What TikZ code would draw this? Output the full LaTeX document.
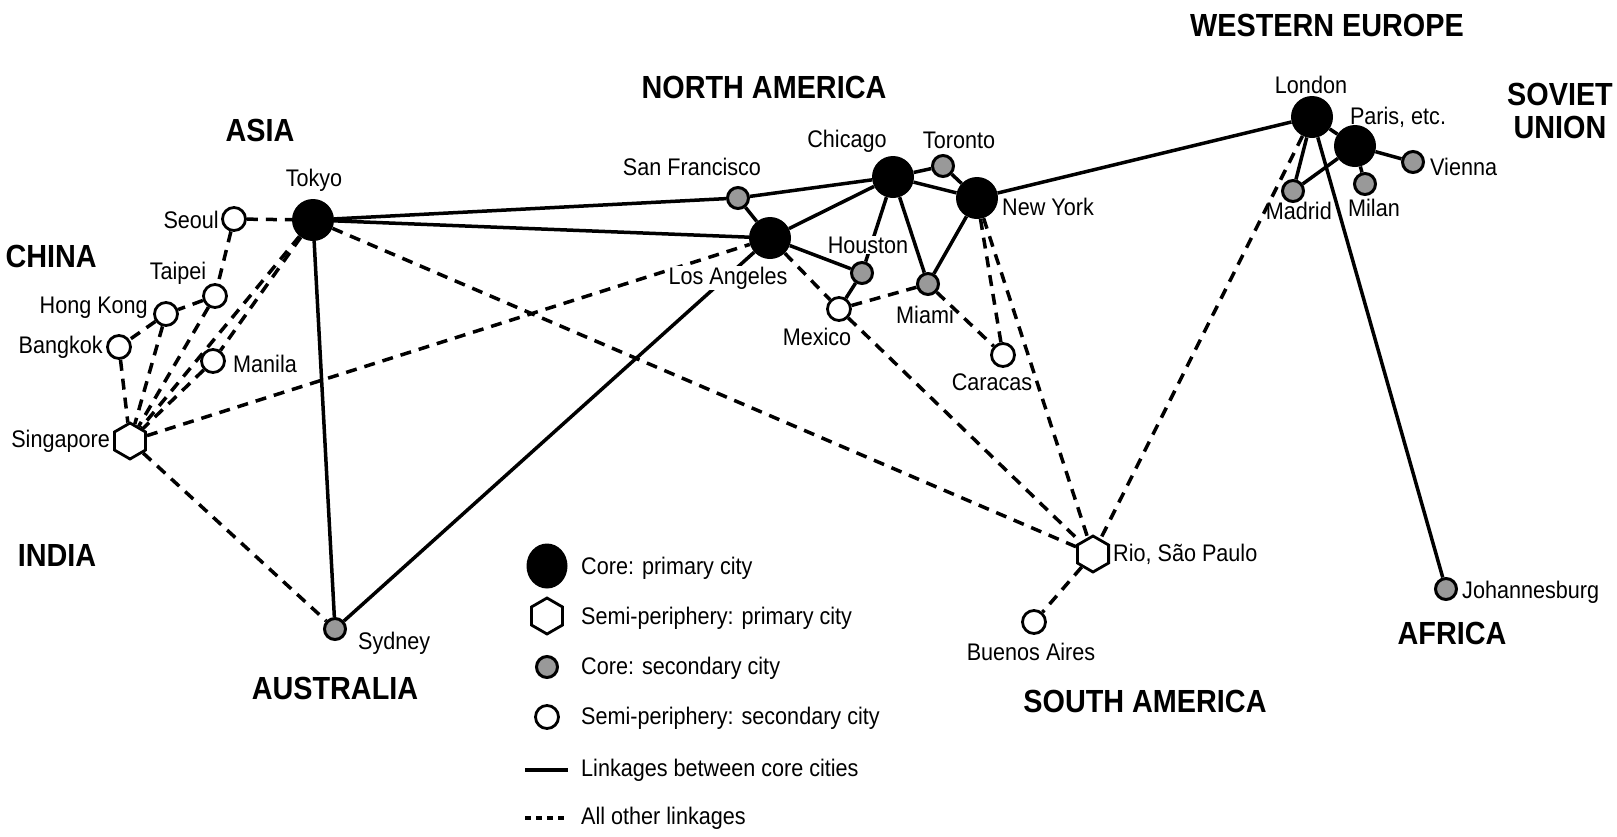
\documentclass[tikz,border=0pt]{standalone}
\usepackage{fontspec}
\setmainfont{Liberation Sans}[FakeStretch=0.9]
\usetikzlibrary{shapes.geometric}
\begin{document}
\begin{tikzpicture}[x=1pt,y=-1pt,
  core/.style={circle,fill=black,inner sep=0pt,minimum size=42pt},
  semi/.style={regular polygon,regular polygon sides=6,shape border rotate=30,draw=black,line width=2.8pt,fill=white,inner sep=0pt,minimum size=36pt},
  coresec/.style={circle,draw=black,line width=3pt,fill=black!40,inner sep=0pt,minimum size=21pt},
  semisec/.style={circle,draw=black,line width=2.8pt,fill=white,inner sep=0pt,minimum size=23pt},
  corelink/.style={line width=3.5pt},
  otherlink/.style={line width=3.5pt,dash pattern=on 11pt off 8pt},
  lbl/.style={font=\fontsize{24}{28}\selectfont,inner sep=1pt},
  lblw/.style={lbl,fill=white},
  region/.style={font=\bfseries\fontsize{32}{33}\selectfont,inner sep=0pt,align=center}]
\fill[white] (0,0) rectangle (1617,836);
\useasboundingbox (0,0) rectangle (1617,836);
% cities
\node[core] (Tokyo) at (313,220) {};
\node[semisec] (Seoul) at (234,219) {};
\node[semisec] (Taipei) at (215,296) {};
\node[semisec] (HongKong) at (166,314) {};
\node[semisec] (Bangkok) at (119,347) {};
\node[semisec] (Manila) at (213,361) {};
\node[semi] (Singapore) at (130,441) {};
\node[coresec] (Sydney) at (335,629) {};
\node[coresec] (SF) at (738,198) {};
\node[core] (LA) at (770,238) {};
\node[core] (Chicago) at (893,177) {};
\node[coresec] (Toronto) at (943,166) {};
\node[core] (NewYork) at (977,198) {};
\node[coresec] (Houston) at (862,273) {};
\node[coresec] (Miami) at (928,284) {};
\node[semisec] (Mexico) at (839,309) {};
\node[semisec] (Caracas) at (1003,355) {};
\node[core] (London) at (1312,117) {};
\node[core] (Paris) at (1355,146) {};
\node[coresec] (Vienna) at (1413,162) {};
\node[coresec] (Madrid) at (1293,191) {};
\node[coresec] (Milan) at (1365,184) {};
\node[semi] (Rio) at (1093,554) {};
\node[semisec] (BuenosAires) at (1034,622) {};
\node[coresec] (Johannesburg) at (1446,589) {};
% core linkages
\foreach \a/\b in {Tokyo/SF,SF/Chicago,Tokyo/LA,SF/LA,LA/Chicago,LA/Houston,Chicago/Houston,Chicago/Miami,Chicago/Toronto,Toronto/NewYork,Chicago/NewYork,NewYork/Miami,Houston/Mexico,NewYork/London,London/Paris,Paris/Vienna,London/Madrid,Paris/Madrid,Paris/Milan,London/Johannesburg,LA/Sydney,Tokyo/Sydney}
  \draw[corelink] (\a) -- (\b);
% other linkages
\foreach \a/\b in {Seoul/Tokyo,Seoul/Taipei,Taipei/HongKong,HongKong/Bangkok,Bangkok/Singapore,HongKong/Singapore,Taipei/Singapore,Manila/Singapore,Tokyo/Manila,Tokyo/Singapore,Singapore/LA,Singapore/Sydney,Tokyo/Rio,LA/Mexico,Mexico/Miami,Mexico/Rio,Miami/Caracas,NewYork/Caracas,NewYork/Rio,London/Rio,Rio/BuenosAires}
  \draw[otherlink] (\a) -- (\b);
% city labels
\node[lbl] (lTokyo) at (314,180) {Tokyo};
\node[lbl,anchor=east] (lSeoul) at (220,220) {Seoul};
\node[lbl] (lTaipei) at (178,273) {Taipei};
\node[lbl,anchor=east] (lHongKong) at (149,308) {Hong Kong};
\node[lbl,anchor=east] (lBangkok) at (104,347) {Bangkok};
\node[lbl,anchor=west] (lManila) at (232,364) {Manila};
\node[lbl,anchor=east] (lSingapore) at (111,441) {Singapore};
\node[lbl,anchor=west] (lSydney) at (357,643) {Sydney};
\node[lbl] (lSF) at (692,167) {San Francisco};
\node[lbl] (lChicago) at (847,141) {Chicago};
\node[lbl] (lToronto) at (959,140) {Toronto};
\node[lbl,anchor=west] (lNewYork) at (1001,207) {New York};
\node[lblw] (lHouston) at (868,245) {Houston};
\node[lblw] (lLA) at (728,278) {Los Angeles};
\node[lbl] (lMexico) at (817,337) {Mexico};
\node[lbl] (lMiami) at (925,315) {Miami};
\node[lbl] (lCaracas) at (992,382) {Caracas};
\node[lbl] (lLondon) at (1311,85) {London};
\node[lbl] (lParis) at (1398,117) {Paris, etc.};
\node[lbl,anchor=west] (lVienna) at (1429,167) {Vienna};
\node[lbl,anchor=east] (lMadrid) at (1333,211) {Madrid};
\node[lbl] (lMilan) at (1374,208) {Milan};
\node[lbl,anchor=west] (lRio) at (1112,554) {Rio, São Paulo};
\node[lbl] (lBuenosAires) at (1031,652) {Buenos Aires};
\node[lbl,anchor=west] (lJohannesburg) at (1461,592) {Johannesburg};
% regions
\node[region] (rAsia) at (260,130) {ASIA};
\node[region,anchor=east] (rChina) at (97,256) {CHINA};
\node[region] (rIndia) at (57,555) {INDIA};
\node[region] (rAustralia) at (335,688) {AUSTRALIA};
\node[region] (rNA) at (764,87) {NORTH AMERICA};
\node[region] (rWE) at (1327,25) {WESTERN EUROPE};
\node[region] (rSU) at (1560,111) {SOVIET\\UNION};
\node[region] (rSA) at (1145,701) {SOUTH AMERICA};
\node[region] (rAfrica) at (1452,633) {AFRICA};
% legend
\node[ellipse,fill=black,inner sep=0pt,minimum width=41pt,minimum height=45pt] (kCore) at (547,566) {};
\node[semi] (kSemi) at (547,616) {};
\node[coresec] (kCoreSec) at (547,667) {};
\node[semisec] (kSemiSec) at (547,717) {};
\coordinate (kA) at (525,770);
\coordinate (kB) at (568,770);
\coordinate (kC) at (525,818);
\coordinate (kD) at (568,818);
\draw[corelink] (kA) -- (kB);
\draw[line width=3.5pt,dash pattern=on 6pt off 5pt] (kC) -- (kD);
\node[lbl,anchor=west] (tCore) at (580,568) {Core: primary city};
\node[lbl,anchor=west] (tSemi) at (580,618) {Semi-periphery: primary city};
\node[lbl,anchor=west] (tCoreSec) at (580,668) {Core: secondary city};
\node[lbl,anchor=west] (tSemiSec) at (580,718) {Semi-periphery: secondary city};
\node[lbl,anchor=west] (tCoreLink) at (580,770) {Linkages between core cities};
\node[lbl,anchor=west] (tOther) at (580,818) {All other linkages};
\end{tikzpicture}
\end{document}
